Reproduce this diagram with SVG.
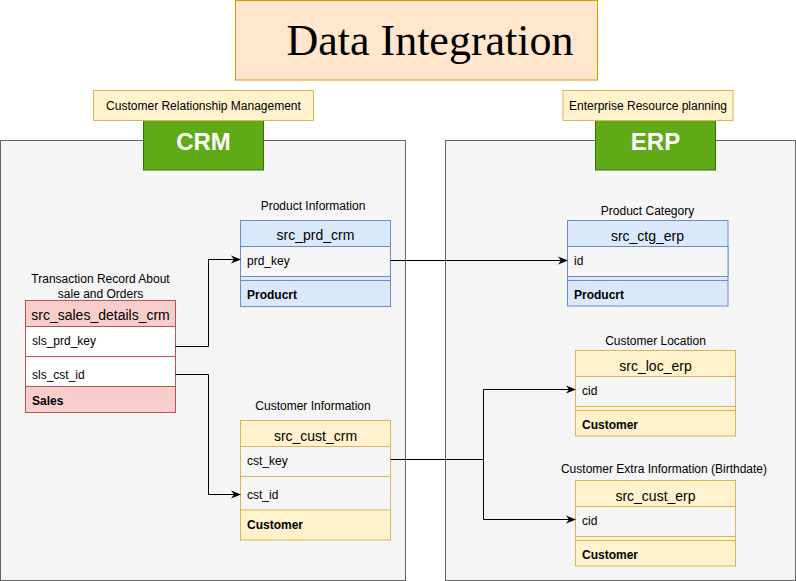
<svg xmlns="http://www.w3.org/2000/svg" width="796" height="581" viewBox="0 0 796 581">
<style>
text{font-family:"Liberation Sans",Arial,sans-serif;fill:#000}
.lbl{font-size:12px;text-anchor:middle}
.hdr{font-size:14px;text-anchor:middle}
.row{font-size:12px}
.ft{font-size:12px;font-weight:bold}
.yel{fill:#fff2cc;stroke:#d6b656;stroke-width:1}
.blu{fill:#dae8fc;stroke:#6c8ebf;stroke-width:1}
.red{fill:#f8cecc;stroke:#b85450;stroke-width:1}
.cont{fill:#f5f5f5;stroke:#666666;stroke-width:1}
.grn{fill:#60a917;stroke:#2d7600;stroke-width:1}
.big{font-size:24px;font-weight:bold;fill:#ffffff;text-anchor:middle}
.conn path{fill:none;stroke:#000;stroke-width:1}
</style>
<defs>
<marker id="arr" viewBox="0 0 10 10" refX="9" refY="5" markerWidth="10" markerHeight="10" markerUnits="userSpaceOnUse" orient="auto">
<path d="M0,1 L10,5 L0,9 L3,5 Z" fill="#000"/>
</marker>
</defs>
<rect width="796" height="581" fill="#ffffff"/>

<g id="title">
<rect x="235.5" y="0.5" width="362" height="79.5" fill="#ffe6cc" stroke="#d79b00"/>
<text x="430" y="55" style="font-family:'Liberation Serif','Times New Roman',serif;font-size:44px;text-anchor:middle">Data Integration</text>
</g>

<g id="crm-container">
<rect class="cont" x="0.5" y="140.5" width="405" height="440"/>
</g>
<g id="erp-container">
<rect class="cont" x="445.5" y="140.5" width="350" height="440"/>
</g>

<g id="crm-badge">
<rect class="grn" x="143.5" y="120.5" width="120" height="49.5"/>
<text class="big" x="203.5" y="150">CRM</text>
</g>
<g id="crm-sub">
<rect class="yel" x="93.5" y="90.5" width="220" height="30"/>
<text class="lbl" x="203.5" y="109.5">Customer Relationship Management</text>
</g>

<g id="erp-badge">
<rect class="grn" x="595.5" y="120.5" width="120" height="49.5"/>
<text class="big" x="655.5" y="150">ERP</text>
</g>
<g id="erp-sub">
<rect class="yel" x="563" y="90.5" width="170" height="30"/>
<text class="lbl" x="648" y="109.5">Enterprise Resource planning</text>
</g>

<g id="src_sales_details_crm">
<text class="lbl" x="100.5" y="283">Transaction Record About</text>
<text class="lbl" x="100.5" y="298">sale and Orders</text>
<rect class="red" x="25.5" y="300.5" width="150" height="112"/>
<rect x="25.5" y="326.5" width="150" height="60" fill="#ffffff" stroke="#b85450"/>
<line x1="25.5" y1="356.5" x2="175.5" y2="356.5" stroke="#b85450"/>
<text class="hdr" x="100.5" y="320">src_sales_details_crm</text>
<text class="row" x="32" y="345">sls_prd_key</text>
<text class="row" x="32" y="379">sls_cst_id</text>
<text class="ft" x="32" y="405">Sales</text>
</g>

<g id="src_prd_crm">
<text class="lbl" x="313" y="210">Product Information</text>
<rect class="blu" x="240.5" y="220.5" width="150" height="86"/>
<rect x="240.5" y="246.5" width="150" height="30" fill="#f5f5f5" stroke="#6c8ebf"/>
<line x1="240.5" y1="280.5" x2="390.5" y2="280.5" stroke="#6c8ebf"/>
<text class="hdr" x="315.5" y="240">src_prd_crm</text>
<text class="row" x="247" y="265">prd_key</text>
<text class="ft" x="247" y="299">Producrt</text>
</g>

<g id="src_cust_crm">
<text class="lbl" x="313" y="410">Customer Information</text>
<rect class="yel" x="240.5" y="420.5" width="150" height="119.5"/>
<rect x="240.5" y="446.5" width="150" height="63.5" fill="#f5f5f5" stroke="#d6b656"/>
<line x1="240.5" y1="476.5" x2="390.5" y2="476.5" stroke="#d6b656"/>
<text class="hdr" x="315.5" y="441">src_cust_crm</text>
<text class="row" x="247" y="465">cst_key</text>
<text class="row" x="247" y="499">cst_id</text>
<text class="ft" x="247" y="529">Customer</text>
</g>

<g id="src_ctg_erp">
<text class="lbl" x="647.5" y="215">Product Category</text>
<rect class="blu" x="567.5" y="220.5" width="160.5" height="85.5"/>
<rect x="567.5" y="246.5" width="160.5" height="30" fill="#f5f5f5" stroke="#6c8ebf"/>
<line x1="567.5" y1="280.5" x2="728" y2="280.5" stroke="#6c8ebf"/>
<text class="hdr" x="647.5" y="241">src_ctg_erp</text>
<text class="row" x="574" y="265">id</text>
<text class="ft" x="574" y="299">Producrt</text>
</g>

<g id="src_loc_erp">
<text class="lbl" x="655.5" y="345">Customer Location</text>
<rect class="yel" x="575.5" y="350.5" width="160" height="85.5"/>
<rect x="575.5" y="376.5" width="160" height="30" fill="#f5f5f5" stroke="#d6b656"/>
<line x1="575.5" y1="410.5" x2="735.5" y2="410.5" stroke="#d6b656"/>
<text class="hdr" x="655.5" y="371">src_loc_erp</text>
<text class="row" x="582" y="395">cid</text>
<text class="ft" x="582" y="429">Customer</text>
</g>

<g id="src_cust_erp">
<text class="lbl" x="664" y="473">Customer Extra Information (Birthdate)</text>
<rect class="yel" x="575.5" y="480.5" width="160" height="85.5"/>
<rect x="575.5" y="506.5" width="160" height="30" fill="#f5f5f5" stroke="#d6b656"/>
<line x1="575.5" y1="540.5" x2="735.5" y2="540.5" stroke="#d6b656"/>
<text class="hdr" x="655.5" y="501">src_cust_erp</text>
<text class="row" x="582" y="525">cid</text>
<text class="ft" x="582" y="559">Customer</text>
</g>

<g class="conn" id="connectors">
<path d="M175.5,346.5 H208.5 V259.5 H240" marker-end="url(#arr)"/>
<path d="M175.5,374.5 H208.5 V494.5 H240" marker-end="url(#arr)"/>
<path d="M390.5,260.5 H567" marker-end="url(#arr)"/>
<path d="M390.5,459.5 H483.5 V389.5 H575" marker-end="url(#arr)"/>
<path d="M483.5,459.5 V519.5 H575" marker-end="url(#arr)"/>
</g>
</svg>
